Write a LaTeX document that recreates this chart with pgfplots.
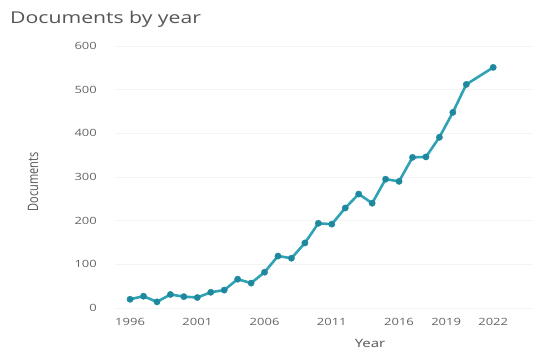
\documentclass[border=0pt]{standalone}
\usepackage{fontspec}
\setmainfont{Open Sans}
\usepackage{pgfplots}
\pgfplotsset{compat=1.18}
\definecolor{linec}{RGB}{48,162,182}
\definecolor{markc}{RGB}{30,136,158}
\definecolor{txtc}{RGB}{85,85,85}
\definecolor{tickc}{RGB}{100,100,100}
\newcommand{\sx}[1]{\scalebox{1.3}[1]{#1}}
\begin{document}
\begin{tikzpicture}[x=1pt,y=1pt]
\useasboundingbox (0,0) rectangle (537,353);
\node[anchor=base west, inner sep=0, text=txtc] at (10,329) {\fontsize{16.3}{16.3}\selectfont\sx{Documents by year}};
\node[rotate=90, inner sep=0, text=txtc] at (33,171) {\scalebox{1}[1.3]{\fontsize{11}{11}\selectfont Documents}};
\node[inner sep=0, text=txtc] at (370,10) {\fontsize{11.5}{11.5}\selectfont\sx{Year}};
\begin{axis}[
  at={(115pt,45pt)}, anchor=south west,
  scale only axis, width=418pt, height=262pt,
  xmin=1994.88, xmax=2025.96, ymin=0, ymax=600,
  axis line style={draw=none},
  ymajorgrids, grid style={draw=gray!9, line width=0.8pt},
  major tick length=0pt,
  ytick={0,100,200,300,400,500,600},
  yticklabel={\sx{\pgfmathprintnumber[assume math mode=true]{\tick}}},
  yticklabel style={anchor=east, inner sep=0pt, xshift=-18pt, font=\fontsize{10}{10}\selectfont, text=tickc},
  xtick={1996,2001,2006,2011,2016,2019.5,2023},
  xticklabels={\sx{1996},\sx{2001},\sx{2006},\sx{2011},\sx{2016},\sx{2019},\sx{2022}},
  xticklabel style={anchor=north, inner sep=0pt, yshift=-10pt, font=\fontsize{10}{10}\selectfont, text=tickc},
  clip=false,
]
\addplot[color=linec, line width=2.6pt, line join=round, mark=*, mark size=3.2pt, mark options={solid, fill=markc, draw=markc, line width=0.3pt}] coordinates {
(1996,20) (1997,27) (1998,14) (1999,31) (2000,26) (2001,24) (2002,36) (2003,41)
(2004,66) (2005,57) (2006,82) (2007,119) (2008,114) (2009,149) (2010,194)
(2011,192) (2012,229) (2013,261) (2014,240) (2015,295) (2016,290) (2017,345)
(2018,346) (2019,391) (2020,448) (2021,512) (2023,551)
};
\end{axis}
\end{tikzpicture}
\end{document}
